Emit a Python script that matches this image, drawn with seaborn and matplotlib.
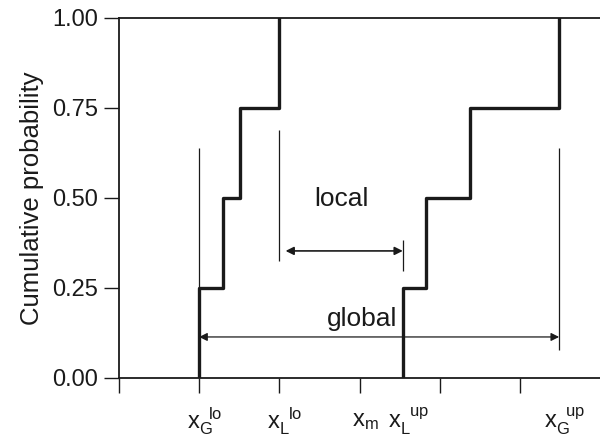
import numpy as np
import pandas as pd
import matplotlib
matplotlib.use('Agg')
import matplotlib.pyplot as plt
import seaborn as sns

# ---- data (x in arbitrary units) ----
lower_vals = [1.0, 1.3, 1.51, 2.0]      # ECDF of lower bounds
upper_vals = [3.54, 3.83, 4.38, 5.49]   # ECDF of upper bounds
x_m = 3.0
y_ticks = [0.0, 0.25, 0.5, 0.75, 1.0]
x_ticks = [0, 1, 2, 3, 4, 5]

x_G_lo, x_L_lo = min(lower_vals), max(lower_vals)
x_L_up, x_G_up = min(upper_vals), max(upper_vals)

marker_x = [x_G_lo, x_L_lo, x_L_up, x_G_up]
marker_ymin = [0.0, 0.325, 0.297, 0.078]
marker_ymax = [0.64, 0.69, 0.383, 0.64]

label_x = [x_G_lo, x_L_lo, x_m, x_L_up, x_G_up]
label_txt = [r'$x_G^{\ \ lo}$', r'$x_L^{\ \ lo}$', r'$x_m$', r'$x_L^{\ \ up}$', r'$x_G^{\ \ up}$']

# ---- style ----
sns.set_style('ticks')
plt.rcParams['font.family'] = ['Liberation Sans', 'DejaVu Sans']
plt.rcParams['mathtext.fontset'] = 'custom'
plt.rcParams['mathtext.rm'] = 'Liberation Sans'
plt.rcParams['mathtext.it'] = 'Liberation Sans'
plt.rcParams['mathtext.default'] = 'regular'
ink = '#1a1a1a'

fig = plt.figure(figsize=(6, 4.43), dpi=100)
ax = fig.add_axes([119 / 600, 65 / 443, 481 / 600, 360 / 443])

df = pd.DataFrame({'x': lower_vals + upper_vals,
                   'set': ['lower'] * len(lower_vals) + ['upper'] * len(upper_vals)})
sns.ecdfplot(data=df, x='x', hue='set', palette=[ink, ink], linewidth=2.4,
             legend=False, ax=ax)
# start each step at its first value instead of -inf
for line in ax.lines:
    xd = np.asarray(line.get_xdata(), dtype=float)
    xd[0] = xd[1]
    line.set_xdata(xd)

# thin marker lines
ax.vlines(marker_x, marker_ymin, marker_ymax, colors=ink, linewidth=0.9)

# arrows
ax.annotate('', xy=(x_L_up, 0.353), xytext=(x_L_lo, 0.353),
            arrowprops=dict(arrowstyle='<|-|>', color=ink, lw=1.2,
                            mutation_scale=12, shrinkA=4.5, shrinkB=0))
ax.annotate('', xy=(x_G_up, 0.114), xytext=(x_G_lo, 0.114),
            arrowprops=dict(arrowstyle='<|-|>', color=ink, lw=0.9,
                            mutation_scale=12, shrinkA=0, shrinkB=0))
ax.text(2.78, 0.497, 'local', fontsize=19, ha='center', va='center', color=ink)
ax.text(3.03, 0.165, 'global', fontsize=19, ha='center', va='center', color=ink)

# x labels
for xv, t in zip(label_x, label_txt):
    ax.annotate(t, xy=(xv, 0), xycoords=('data', 'axes fraction'),
                xytext=(4, -31), textcoords='offset points',
                ha='center', va='center', fontsize=17, color=ink,
                annotation_clip=False)

ax.set_xlim(0, 6.0)
ax.set_ylim(0, 1)
ax.set_xticks(x_ticks)
ax.set_xticklabels([])
ax.set_yticks(y_ticks)
ax.set_yticklabels([f'{v:.2f}' for v in y_ticks])
ax.set_xlabel('')
ax.set_ylabel('Cumulative probability', fontsize=18.5, color=ink, labelpad=6)
ax.tick_params(direction='out', length=11, width=1.0, color=ink,
               labelsize=17, labelcolor=ink, pad=4)
ax.spines['right'].set_visible(False)
for s in ['left', 'bottom', 'top']:
    ax.spines[s].set_color(ink)
    ax.spines[s].set_linewidth(1.3)

fig.savefig('out.png', dpi=100)
